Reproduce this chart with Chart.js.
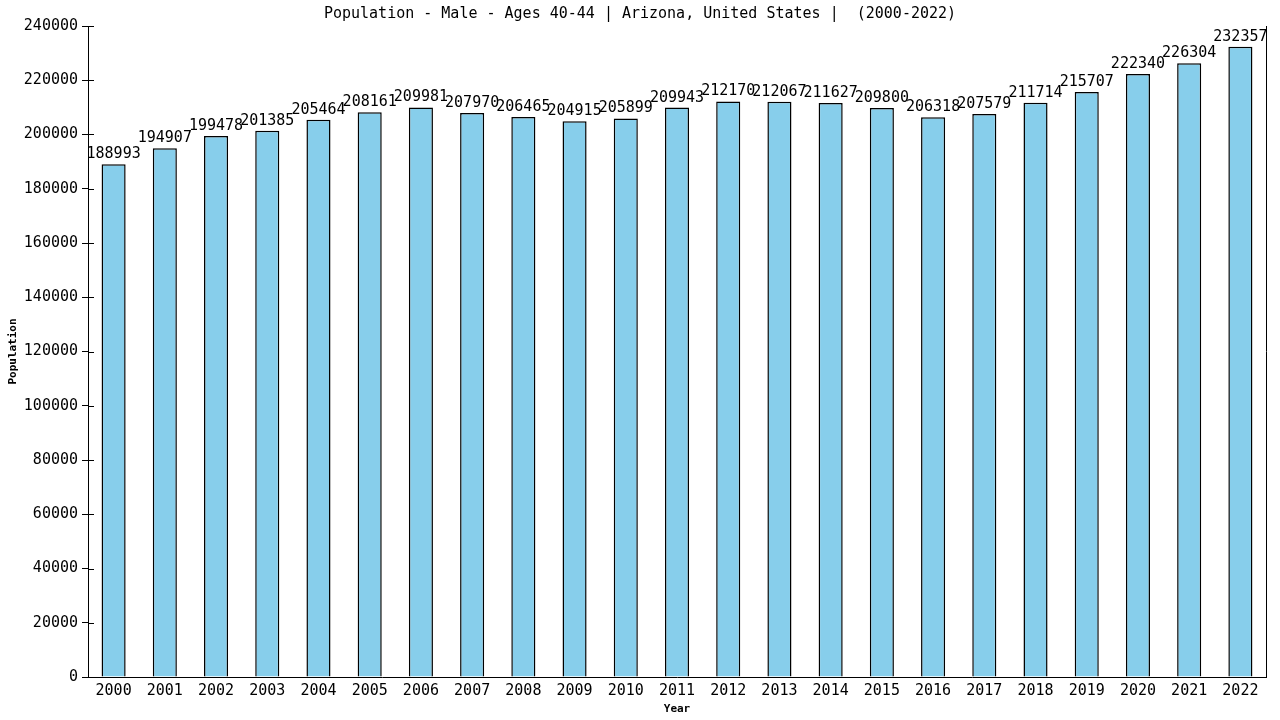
<!DOCTYPE html>
<html><head><meta charset="utf-8">
<script src="https://cdn.jsdelivr.net/npm/chart.js@4"></script>
<style>html,body{margin:0;padding:0;background:#fff}#wrap{width:1280px;height:720px}</style>
</head><body><div id="wrap"><canvas id="c" width="1280" height="720"></canvas></div>
<script>
const titleText = "Population - Male - Ages 40-44 | Arizona, United States |  (2000-2022)";
const years = ["2000","2001","2002","2003","2004","2005","2006","2007","2008","2009","2010","2011","2012","2013","2014","2015","2016","2017","2018","2019","2020","2021","2022"];
const population = [188993,194907,199478,201385,205464,208161,209981,207970,206465,204915,205899,209943,212170,212067,211627,209800,206318,207579,211714,215707,222340,226304,232357];
const yAxisTitle = "Population";
const xAxisTitle = "Year";
const FONT = "'DejaVu Sans Mono', monospace";

const deco = {
  id: 'deco',
  afterDatasetsDraw(chart) {
    const ctx = chart.ctx, a = chart.chartArea;
    const meta = chart.getDatasetMeta(0);
    ctx.save();
    ctx.fillStyle = '#000';
    ctx.font = "15px " + FONT;
    ctx.textAlign = 'center';
    ctx.textBaseline = 'alphabetic';
    meta.data.forEach((bar, i) => {
      ctx.fillText(String(population[i]), bar.x, bar.y - 6);
    });
    // title
    ctx.fillText(titleText, 640, 18);
    // right border
    ctx.strokeStyle = '#000'; ctx.lineWidth = 1;
    ctx.beginPath();
    ctx.moveTo(Math.round(a.right) + 0.5, a.top);
    ctx.lineTo(Math.round(a.right) + 0.5, a.bottom);
    ctx.stroke();
    // inward y ticks
    const y = chart.scales.y;
    y.ticks.forEach(t => {
      const py = Math.round(y.getPixelForValue(t.value)) + 0.5;
      ctx.beginPath();
      ctx.moveTo(a.left, py); ctx.lineTo(a.left + 6, py); ctx.stroke();
    });
    ctx.restore();
  }
};

new Chart(document.getElementById('c'), {
  type: 'bar',
  data: {
    labels: years,
    datasets: [{
      data: population,
      backgroundColor: '#87CEEB',
      borderColor: '#000',
      borderWidth: 1.5,
      barPercentage: 0.47,
      categoryPercentage: 1.0
    }]
  },
  options: {
    responsive: false,
    animation: false,
    devicePixelRatio: 1,
    layout: { padding: { top: 26, right: 14, left: 0, bottom: 0 } },
    plugins: { legend: { display: false }, tooltip: { enabled: false }, title: { display: false } },
    scales: {
      x: {
        grid: { display: false, drawTicks: false },
        border: { display: true, color: '#000', width: 1 },
        ticks: { color: '#000', font: { family: FONT, size: 15 }, padding: 5, maxRotation: 0, autoSkip: false },
        title: { display: true, text: xAxisTitle, color: '#000', font: { family: FONT, size: 11, weight: 'bold' }, padding: { top: 0, bottom: 4 } },
        afterFit(s) { s.height = 43; }
      },
      y: {
        min: 0, max: 240000,
        grid: { drawOnChartArea: false, drawTicks: true, tickLength: 6, color: '#000' },
        border: { display: true, color: '#000', width: 1 },
        ticks: { stepSize: 20000, color: '#000', font: { family: FONT, size: 15 }, padding: 4, callback: v => String(v) },
        title: { display: true, text: yAxisTitle, color: '#000', font: { family: FONT, size: 11, weight: 'bold' }, padding: { top: 7, bottom: 4 } },
        afterFit(s) { s.width = 88; }
      }
    }
  },
  plugins: [deco]
});
</script></body></html>
